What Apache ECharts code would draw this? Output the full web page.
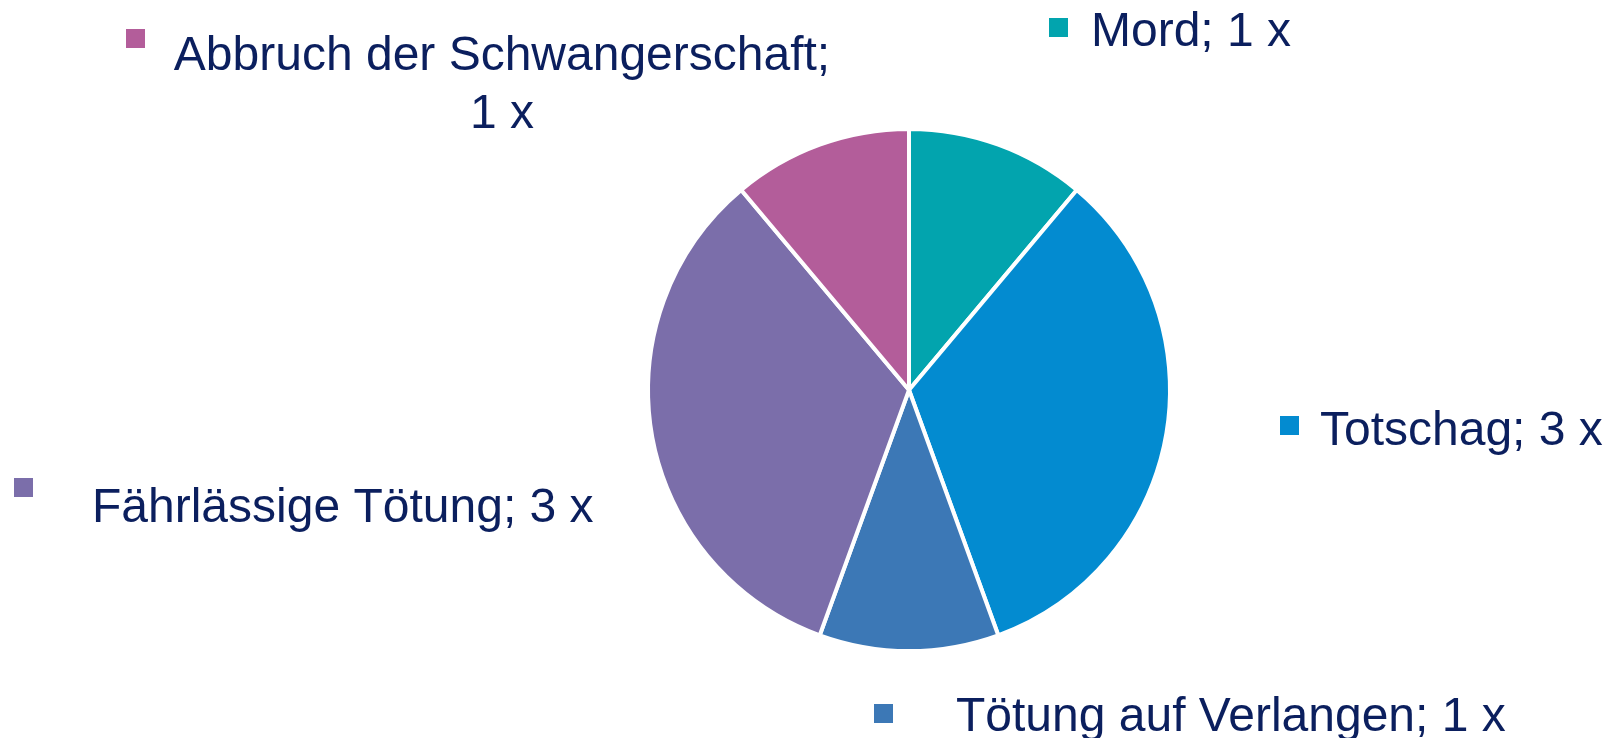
<!DOCTYPE html>
<html>
<head>
<meta charset="utf-8">
<script src="https://cdn.jsdelivr.net/npm/echarts@6/dist/echarts.min.js"></script>
<style>
  html, body { margin: 0; padding: 0; background: #fff; }
  #chart { width: 1608px; height: 738px; }
</style>
</head>
<body>
<div id="chart"></div>
<script>
// Delikte (Anzahl Fälle) als Kreisdiagramm.
const categories = ["Mord", "Totschag", "Tötung auf Verlangen", "Fährlässige Tötung", "Abbruch der Schwangerschaft"];
const counts = [1, 3, 1, 3, 1];

const COLORS = ["#02a4ae", "#038bd0", "#3c78b6", "#7b6eaa", "#b35d9a"];
const TEXT = "#0b1f5e";
const FONT = "'Liberation Sans', Arial, sans-serif";

// Lage der Beschriftungen (Text) und der Farbquadrate, in Pixeln.
const labelPos = [
  { x: 1091, y: 33, align: "left" },
  { x: 1320, y: 432, align: "left" },
  { x: 956, y: 718, align: "left" },
  { x: 92, y: 509, align: "left" },
  { x: 502, y: 86, align: "center" },
];
const markerPos = [[1047, 16], [1278, 414], [872, 702], [12, 476], [124, 27]];

function labelText(name, v) {
  if (name === "Abbruch der Schwangerschaft") return `${name};\n${v} x`;
  return `${name}; ${v} x`;
}

const chart = echarts.init(document.getElementById("chart"));

chart.setOption({
  animation: false,
  backgroundColor: "#fff",
  color: COLORS,
  legend: categories.map((name, i) => ({
    data: [name],
    left: markerPos[i][0],
    top: markerPos[i][1],
    padding: 0,
    icon: "rect",
    itemWidth: 21,
    itemHeight: 21,
    selectedMode: false,
    formatter: () => "",
  })),
  series: [
    {
      type: "pie",
      center: [909, 390],
      radius: 261,
      startAngle: 90,
      clockwise: true,
      itemStyle: { borderColor: "#fff", borderWidth: 4 },
      label: {
        show: true,
        color: TEXT,
        fontFamily: FONT,
        fontSize: 48,
        lineHeight: 58,
        formatter: (p) => labelText(p.name, p.value),
      },
      labelLine: { show: false },
      labelLayout: (p) => ({
        x: labelPos[p.dataIndex].x,
        y: labelPos[p.dataIndex].y,
        align: labelPos[p.dataIndex].align,
        verticalAlign: "middle",
      }),
      emphasis: { disabled: true },
      data: categories.map((name, i) => ({ name, value: counts[i] })),
    },
  ],
});
</script>
</body>
</html>
